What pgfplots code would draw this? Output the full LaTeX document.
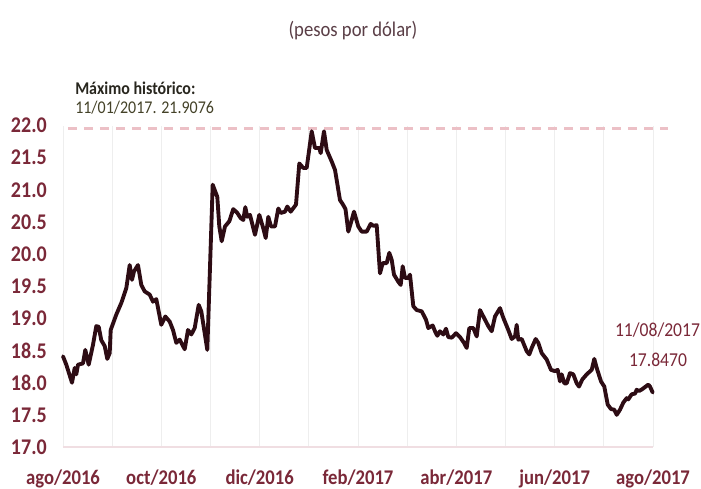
\documentclass[border=0pt]{standalone}
\usepackage{pgfplots}
\pgfplotsset{compat=1.18}
\usepackage{fontspec}
\setmainfont{Carlito}
\definecolor{maroon}{RGB}{122,40,56}
\definecolor{linec}{RGB}{45,12,20}
\definecolor{dashc}{RGB}{236,192,198}
\definecolor{titlec}{RGB}{90,62,70}
\definecolor{olivec}{RGB}{68,66,40}
\definecolor{darkc}{RGB}{40,38,30}
\newcommand{\vs}[1]{\scalebox{1}[1.12]{#1}}
\begin{document}
\begin{tikzpicture}
\begin{axis}[
  scale only axis,
  width=442.5pt, height=241.125pt,
  xmin=0, xmax=590, ymin=17, ymax=22,
  clip=false,
  axis x line*=bottom, axis y line*=left,
  x axis line style={draw={rgb,255:red,240;green,222;blue,226}, line width=1.1pt, -},
  y axis line style={draw=none},
  major tick length=0pt, minor tick length=0pt,
  xtick={0,98.33,196.67,295,393.33,491.67,590},
  xticklabels={\vs{ago/2016},\vs{oct/2016},\vs{dic/2016},\vs{feb/2017},\vs{abr/2017},\vs{jun/2017},\vs{ago/2017}},
  minor xtick={49.17,147.5,245.83,344.17,442.5,540.83},
  xmajorgrids, xminorgrids,
  major grid style={draw={rgb,255:red,238;green,238;blue,238}, line width=0.6pt},
  minor grid style={draw={rgb,255:red,238;green,238;blue,238}, line width=0.6pt},
  ytick={17,17.5,...,22},
  yticklabels={\vs{17.0},\vs{17.5},\vs{18.0},\vs{18.5},\vs{19.0},\vs{19.5},\vs{20.0},\vs{20.5},\vs{21.0},\vs{21.5},\vs{22.0}},
  yticklabel style={font=\fontsize{15}{18}\selectfont\bfseries, text=maroon, anchor=east, inner sep=0pt, xshift=-12pt},
  xticklabel style={font=\fontsize{14}{17}\selectfont\bfseries, text=maroon, anchor=base, inner sep=0pt, yshift=-28.5pt},
]
\coordinate (sw) at (rel axis cs:0,0);
\addplot[dashc, line width=2pt, dash pattern=on 6.75pt off 5.25pt] coordinates {(5,21.95) (605,21.95)};
\addplot[linec, line width=2.9pt, line join=round, line cap=round] coordinates {
(0,18.41) (3.3,18.28) (9,18.00) (11.7,18.23) (13.3,18.13) (15,18.28) (20,18.30) (22.3,18.51)
(25.7,18.28) (30,18.59) (33.3,18.88) (35.7,18.87) (38.3,18.66) (41.7,18.57) (44.3,18.37) (46.7,18.46)
(47.7,18.82) (53.3,19.06) (58.3,19.24) (63.3,19.47) (66.7,19.83) (69,19.60) (71,19.73) (75,19.83)
(78.3,19.52) (81.7,19.42) (86.7,19.37) (90,19.26) (93.3,19.30) (98.3,18.90) (102.3,19.03) (106.7,18.95)
(110,18.82) (113.3,18.62) (116.7,18.67) (121.7,18.52) (125,18.82) (128.3,18.75) (131.7,18.85) (135.7,19.21)
(138.3,19.11) (144.3,18.51) (149.7,21.08) (154.3,20.89) (156.3,20.43) (158.7,20.20) (162,20.43) (166.3,20.51)
(170.3,20.70) (174.3,20.64) (177.7,20.56) (180.3,20.53) (182.3,20.73) (184.3,20.58) (187,20.61) (192,20.30)
(196.3,20.61) (200.3,20.40) (202.7,20.25) (205.3,20.58) (208,20.43) (212,20.43) (215.3,20.71) (217.7,20.64)
(222,20.66) (224.3,20.74) (227.7,20.66) (233,20.77) (236.3,21.41) (240.3,21.34) (243.7,21.34) (248.7,21.91)
(252,21.65) (256.3,21.65) (257.7,21.57) (261,21.91) (263.7,21.62) (268.7,21.44) (272,21.31) (277,20.84)
(280,20.77) (282.5,20.70) (285.3,20.35) (288.7,20.53) (291,20.66) (295.3,20.43) (298.7,20.35) (303.7,20.35)
(307.7,20.47) (310.3,20.44) (313.7,20.45) (317,19.70) (319.7,19.86) (323.7,19.86) (326.3,20.02) (328.7,19.91)
(331,19.68) (335.3,19.57) (337.7,19.52) (339.7,19.81) (342,19.63) (345.3,19.63) (347,19.68) (350.3,19.19)
(353.7,19.13) (358.7,19.11) (363,18.98) (365.3,18.85) (369.7,18.89) (372,18.80) (374.3,18.73) (377,18.80)
(380.3,18.75) (383,18.84) (385.3,18.71) (388.7,18.70) (393,18.77) (397,18.71) (401,18.62) (403.7,18.54)
(406.3,18.85) (410.3,18.85) (413.7,18.72) (417,19.13) (421,19.01) (425.3,18.88) (428.7,18.80) (432,19.03)
(437,19.16) (440.3,19.01) (445.3,18.82) (448.7,18.68) (452,18.72) (453.7,18.90) (455.3,18.67) (458.7,18.68)
(463.7,18.49) (466.3,18.44) (468.7,18.54) (472.7,18.68) (475.3,18.62) (478.7,18.46) (483.7,18.36) (488,18.20)
(492,18.18) (494.7,18.20) (497,18.02) (498.7,18.13) (501.3,17.99) (503.7,17.99) (507,18.15) (510.3,18.13)
(513.7,17.99) (516,17.94) (519.3,18.05) (523.7,18.13) (528.7,18.20) (531.3,18.37) (533.7,18.23) (538,18.02)
(541.3,17.94) (544.7,17.66) (548,17.59) (551.3,17.58) (553.7,17.50) (557,17.58) (560.3,17.69) (563.7,17.76)
(565.3,17.74) (568.7,17.82) (572,17.83) (573.7,17.89) (576,17.87) (579.3,17.90) (582.7,17.94) (585.3,17.97)
(587,17.94) (589.7,17.847)
};
\node[anchor=base, inner sep=0pt, text=titlec, font=\fontsize{14}{17}\selectfont] at (axis cs:290,23.379) {\vs{(pesos por dólar)}};
\node[anchor=base west, inner sep=0pt, text=darkc, font=\fontsize{12}{14}\selectfont\bfseries] at (axis cs:12,22.484) {\vs{Máximo histórico:}};
\node[anchor=base west, inner sep=0pt, text=olivec, font=\fontsize{12}{14}\selectfont] at (axis cs:12,22.189) {\vs{11/01/2017. 21.9076}};
\node[anchor=base, inner sep=0pt, text=maroon, font=\fontsize{13.2}{16}\selectfont] at (axis cs:594.5,18.72) {\vs{11/08/2017}};
\node[anchor=base, inner sep=0pt, text=maroon, font=\fontsize{13.2}{16}\selectfont] at (axis cs:595,18.255) {\vs{17.8470}};
\end{axis}
\pgfresetboundingbox
\path[use as bounding box] ([shift={(-47.25pt,-31.5pt)}]sw) rectangle ([shift={(478.5pt,335.25pt)}]sw);
\end{tikzpicture}
\end{document}
